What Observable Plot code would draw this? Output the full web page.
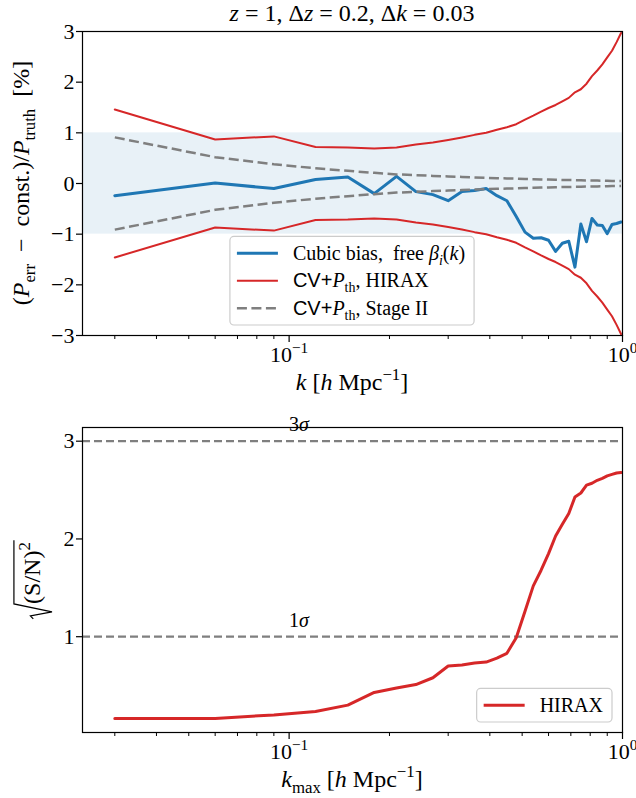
<!DOCTYPE html>
<html>
<head>
<meta charset="utf-8">
<script src="https://cdn.jsdelivr.net/npm/d3@7"></script>
<script src="https://cdn.jsdelivr.net/npm/@observablehq/plot@0.6"></script>
<style>
  html, body { margin: 0; padding: 0; background: #fff; }
  #chart { width: 636px; }
  #chart svg { display: block; }
</style>
</head>
<body>
<div id="chart"></div>
<script>
// ---- data -------------------------------------------------------------
// wavenumber bins, Δk = 0.03 [h/Mpc]
const k = [0.03, 0.06, 0.09, 0.12, 0.15, 0.18, 0.21, 0.24, 0.27, 0.30, 0.33,
           0.36, 0.39, 0.42, 0.45, 0.48, 0.51, 0.54, 0.57, 0.60, 0.63, 0.66,
           0.69, 0.72, 0.75, 0.78, 0.81, 0.84, 0.87, 0.90, 0.93, 0.96, 0.99];

// (P_err - const.)/P_truth [%], cubic bias model with free β_i(k)
const cubicBias = [-0.24, 0.01, -0.10, 0.08, 0.13, -0.20, 0.14, -0.16, -0.22, -0.34, -0.16,
                   -0.14, -0.10, -0.24, -0.34, -0.65, -0.96, -1.08, -1.07, -1.12, -1.34, -1.18,
                   -1.14, -1.65, -0.80, -1.15, -0.69, -0.82, -0.83, -0.99, -0.81, -0.79, -0.76];

// 1σ cosmic-variance + thermal-noise error [%], HIRAX (drawn as ±)
const hiraxErr = [1.46, 0.87, 0.93, 0.72, 0.71, 0.69, 0.71, 0.77, 0.81, 0.86, 0.91,
                  0.96, 1.00, 1.06, 1.11, 1.17, 1.26, 1.34, 1.42, 1.49, 1.55, 1.62,
                  1.69, 1.80, 1.86, 1.97, 2.12, 2.23, 2.35, 2.49, 2.62, 2.79, 2.97];

// 1σ cosmic-variance + thermal-noise error [%], Stage II (drawn as ±)
const stage2Err = [0.91, 0.52, 0.38, 0.30, 0.25, 0.21, 0.18, 0.165, 0.15, 0.14, 0.13,
                   0.12, 0.11, 0.105, 0.10, 0.095, 0.09, 0.085, 0.08, 0.077, 0.074, 0.071,
                   0.068, 0.065, 0.063, 0.061, 0.059, 0.057, 0.055, 0.053, 0.051, 0.05, 0.048];

// cumulative sqrt((S/N)^2) of the bias residual up to k_max, HIRAX
const snrHirax = [0.164, 0.164, 0.20, 0.235, 0.30, 0.43, 0.475, 0.51, 0.58, 0.70, 0.71,
                  0.73, 0.74, 0.78, 0.83, 0.99, 1.26, 1.52, 1.68, 1.85, 2.03, 2.15,
                  2.26, 2.43, 2.47, 2.55, 2.57, 2.60, 2.62, 2.645, 2.66, 2.675, 2.68];

const bandLimits = [-1, 1];              // ±1 % band
const sigmaLevels = [1, 3];              // significance reference lines
const sigmaLabelK = 0.1;                 // where the σ labels start
const sigmaLabelOffset = 0.1;
const xDomain = [0.024, 1];
const majorTicks = [0.1, 1];
const minorTicks = [0.03, 0.04, 0.05, 0.06, 0.07, 0.08, 0.09,
                    0.2, 0.3, 0.4, 0.5, 0.6, 0.7, 0.8, 0.9];
const yTicksTop = [-3, -2, -1, 0, 1, 2, 3];
const yDomainTop = [-3, 3];
const yTicksBottom = [1, 2, 3];
const yDomainBottom = [0.02, 3.14];

// ---- style ------------------------------------------------------------
const SERIF = "'Liberation Serif', 'DejaVu Serif', serif";
const SANS = "'Liberation Sans', 'DejaVu Sans', sans-serif";
const BLUE = "#1f77b4", RED = "#d62728", GRAY = "#7f7f7f";
const FS = 22;        // tick labels
const LFS = 24;       // axis labels and title
const GFS = 20;       // legend and annotations

const minusFmt = d => (d < 0 ? "\u2212" + (-d) : String(d));
const tenPow = d => "10^" + Math.round(Math.log10(d));

// Append tspans to a text selection. Style flags: i italic, b subscript,
// p superscript, s sans-serif.
function rich(sel, parts, fs) {
  let shift = 0;
  for (const [t, st = ""] of parts) {
    const ts = sel.append("tspan").text(t);
    let target = 0, size = fs;
    if (st.includes("b")) { target = 0.25 * fs; size = 0.7 * fs; }
    if (st.includes("p")) { target = -0.42 * fs; size = 0.7 * fs; }
    if (st.includes("i")) ts.attr("font-style", "italic");
    if (st.includes("s")) ts.attr("font-family", SANS);
    ts.attr("font-size", size);
    if (target !== shift) { ts.attr("dy", target - shift); shift = target; }
  }
  return sel;
}

function richLabel(svg, parts, x, y, fs, {rotate = false, anchor = "middle"} = {}) {
  const t = svg.append("text")
    .attr("transform", `translate(${x},${y})` + (rotate ? " rotate(-90)" : ""))
    .attr("text-anchor", anchor)
    .attr("fill", "black")
    .style("white-space", "pre");
  return rich(t, parts, fs);
}

// tick labels such as "10^-1" become 10 with a raised exponent;
// σ labels get an italic sigma
function typesetTicks(svg) {
  svg.selectAll("text").each(function () {
    const s = this.textContent;
    const sel = d3.select(this);
    let m = /^10\^(.+)$/.exec(s);
    if (m) {
      sel.text(null).style("white-space", "pre");
      rich(sel, [["10"], [m[1].replace("-", "\u2212"), "p"]], FS);
      return;
    }
    m = /^(\d+)σ$/.exec(s);
    if (m) {
      sel.text(null);
      rich(sel, [[m[1]], ["σ", "i"]], GFS);
    }
  });
}

// matplotlib-like legend box
function legend(svg, items, {x, y, align, fs}) {
  const padL = 7, handle = 41, gap = 15, padR = 9, rowH = 1.375 * fs, edge = 0.84 * fs;
  const g = svg.append("g").attr("text-anchor", "start");
  const box = g.append("rect")
    .attr("fill", "white").attr("fill-opacity", 0.8)
    .attr("stroke", "#cccccc").attr("stroke-width", 1.2)
    .attr("rx", 4).attr("ry", 4);
  const rows = items.map((it) => {
    const line = g.append("line")
      .attr("stroke", it.stroke).attr("stroke-width", it.width)
      .attr("stroke-dasharray", it.dash || null);
    const t = g.append("text").attr("fill", "black").attr("text-anchor", "start").style("white-space", "pre");
    rich(t, it.parts, fs);
    return {line, t, w: t.node().getComputedTextLength()};
  });
  const w = padL + handle + gap + d3.max(rows, r => r.w) + padR;
  const h = 2 * edge + (items.length - 1) * rowH;
  const x0 = align === "center" ? x - w / 2 : x - w;
  const y0 = y - h;
  box.attr("x", x0).attr("y", y0).attr("width", w).attr("height", h);
  rows.forEach((r, i) => {
    const cy = y0 + edge + i * rowH;
    r.line.attr("x1", x0 + padL).attr("x2", x0 + padL + handle).attr("y1", cy).attr("y2", cy);
    r.t.attr("x", x0 + padL + handle + gap).attr("y", cy + 0.33 * fs);
  });
}

const plotStyle = {fontFamily: SERIF, fontSize: FS + "px", color: "black", background: "white", overflow: "visible"};

// ---- upper panel: residuals vs k -----------------------------------------
const rows = k.map((kv, i) => ({
  k: kv, bias: cubicBias[i], hirax: hiraxErr[i], stage2: stage2Err[i], snr: snrHirax[i]
}));

const topM = {left: 82, right: 14, top: 31, bottom: 65, width: 636, height: 400};
const topPlot = Plot.plot({
  width: topM.width, height: topM.height,
  marginLeft: topM.left, marginRight: topM.right, marginTop: topM.top, marginBottom: topM.bottom,
  style: plotStyle,
  x: {type: "log", domain: xDomain},
  y: {domain: yDomainTop},
  marks: [
    Plot.rect([bandLimits], {y1: d => d[0], y2: d => d[1], fill: BLUE, fillOpacity: 0.1}),
    Plot.line(rows, {x: "k", y: "bias", stroke: BLUE, strokeWidth: 3, clip: true}),
    Plot.line(rows, {x: "k", y: "hirax", stroke: RED, strokeWidth: 2, clip: true}),
    Plot.line(rows, {x: "k", y: d => -d.hirax, stroke: RED, strokeWidth: 2, clip: true}),
    Plot.line(rows, {x: "k", y: "stage2", stroke: GRAY, strokeWidth: 2.5, strokeDasharray: "10,4.5", strokeLinecap: "butt", clip: true}),
    Plot.line(rows, {x: "k", y: d => -d.stage2, stroke: GRAY, strokeWidth: 2.5, strokeDasharray: "10,4.5", strokeLinecap: "butt", clip: true}),
    Plot.frame({stroke: "black", strokeWidth: 1.2}),
    Plot.axisX(minorTicks, {tickSize: 4, strokeWidth: 1, tickFormat: () => "", label: null}),
    Plot.axisX(majorTicks, {tickSize: 7, tickPadding: 4, strokeWidth: 1.2, tickFormat: tenPow, fontSize: FS, label: null}),
    Plot.axisY(yTicksTop, {tickSize: 6, tickPadding: 2, strokeWidth: 1.2, tickFormat: minusFmt, fontSize: FS, label: null})
  ]
});

// ---- lower panel: cumulative significance --------------------------------
const botM = {left: 82, right: 14, top: 27, bottom: 66, width: 636, height: 398};
const bottomPlot = Plot.plot({
  width: botM.width, height: botM.height,
  marginLeft: botM.left, marginRight: botM.right, marginTop: botM.top, marginBottom: botM.bottom,
  style: plotStyle,
  x: {type: "log", domain: xDomain},
  y: {domain: yDomainBottom},
  marks: [
    Plot.ruleY(sigmaLevels, {stroke: GRAY, strokeWidth: 2.2, strokeDasharray: "8,4"}),
    Plot.text(sigmaLevels, {x: () => sigmaLabelK, y: d => d + sigmaLabelOffset, text: d => d + "σ",
      textAnchor: "start", lineAnchor: "bottom", fontSize: GFS, fill: "black"}),
    Plot.line(rows, {x: "k", y: "snr", stroke: RED, strokeWidth: 3, clip: true}),
    Plot.frame({stroke: "black", strokeWidth: 1.2}),
    Plot.axisX(minorTicks, {tickSize: 4, strokeWidth: 1, tickFormat: () => "", label: null}),
    Plot.axisX(majorTicks, {tickSize: 7, tickPadding: 4, strokeWidth: 1.2, tickFormat: tenPow, fontSize: FS, label: null}),
    Plot.axisY(yTicksBottom, {tickSize: 6, tickPadding: 2, strokeWidth: 1.2, tickFormat: minusFmt, fontSize: FS, label: null})
  ]
});

const root = document.getElementById("chart");
root.append(topPlot, bottomPlot);

// ---- text decorations --------------------------------------------------
const sTop = d3.select(topPlot), sBot = d3.select(bottomPlot);
typesetTicks(sTop);
typesetTicks(sBot);

const cxTop = (topM.left + topM.width - topM.right) / 2;

richLabel(sTop, [["z", "i"], [" = 1, Δ"], ["z", "i"], [" = 0.2, Δ"], ["k", "i"], [" = 0.03"]], cxTop, 21, LFS);
richLabel(sTop, [["k", "i"], [" ["], ["h", "i"], [" Mpc"], ["\u22121", "p"], ["]"]], cxTop, 390, LFS);
richLabel(sTop, [["("], ["P", "i"], ["err", "b"], ["  \u2212  const.)/"], ["P", "i"], ["truth", "b"], ["  [%]"]],
  29, (topM.top + topM.height - topM.bottom) / 2, LFS, {rotate: true});

richLabel(sBot, [["k", "i"], ["max", "b"], [" ["], ["h", "i"], [" Mpc"], ["\u22121", "p"], ["]"]], cxTop, 387, LFS);

// √(S/N)² with a drawn radical sign
{
  const fs = LFS;
  const g = sBot.append("g").attr("text-anchor", "start")
    .attr("transform", `translate(40,${(botM.top + botM.height - botM.bottom) / 2}) rotate(-90)`);
  const t = g.append("text").attr("fill", "black").attr("text-anchor", "start").style("white-space", "pre");
  rich(t, [["(S/N)"], ["2", "p"]], fs);
  const bb = t.node().getBBox();
  const rad = 0.62 * fs;
  const total = rad + bb.width + 2;
  const x0 = -total / 2;
  t.attr("x", x0 + rad);
  const topY = bb.y - 1;
  g.append("path")
    .attr("d", `M${x0},${-0.28 * fs} L${x0 + 3},${-0.4 * fs} L${x0 + 7},${0.5 * fs} L${x0 + rad},${topY} L${x0 + rad + bb.width + 2},${topY}`)
    .attr("fill", "none").attr("stroke", "black").attr("stroke-width", 1.2).attr("stroke-linejoin", "miter");
}

// legends
legend(sTop, [
  {stroke: BLUE, width: 3, parts: [["Cubic bias,  free "], ["β", "i"], ["i", "ib"], ["("], ["k", "i"], [")"]]},
  {stroke: RED, width: 2, parts: [["CV+", "s"], ["P", "i"], ["th", "b"], [", HIRAX"]]},
  {stroke: GRAY, width: 2.5, dash: "10,4.5", parts: [["CV+", "s"], ["P", "i"], ["th", "b"], [", Stage II"]]}
], {x: cxTop, y: topM.height - topM.bottom - 10, align: "center", fs: GFS});

legend(sBot, [
  {stroke: RED, width: 3, parts: [["HIRAX"]]}
], {x: botM.width - botM.right - 10, y: botM.height - botM.bottom - 10, align: "right", fs: GFS});
</script>
</body>
</html>
